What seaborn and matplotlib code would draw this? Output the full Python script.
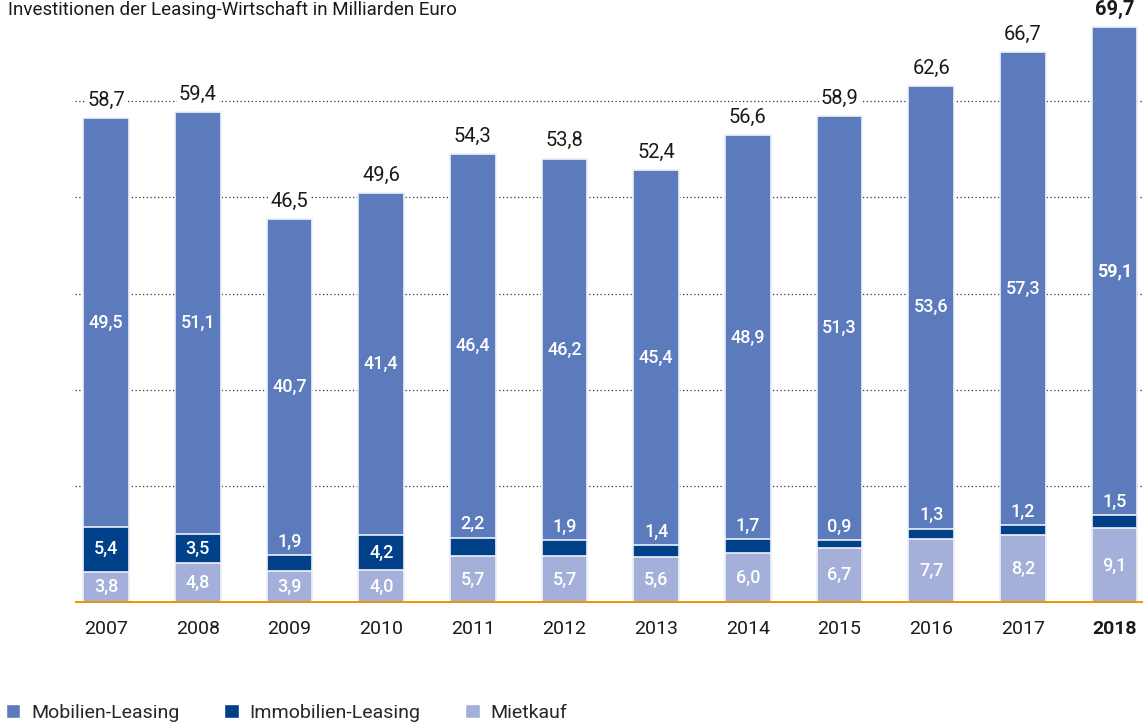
import numpy as np
import pandas as pd
import seaborn as sns
import matplotlib.pyplot as plt
from matplotlib.patches import Patch

# Investitionen der Leasing-Wirtschaft (Mrd. Euro)
years = ["2007", "2008", "2009", "2010", "2011", "2012",
         "2013", "2014", "2015", "2016", "2017", "2018"]
mobilien = [49.5, 51.1, 40.7, 41.4, 46.4, 46.2, 45.4, 48.9, 51.3, 53.6, 57.3, 59.1]
immobilien = [5.4, 3.5, 1.9, 4.2, 2.2, 1.9, 1.4, 1.7, 0.9, 1.3, 1.2, 1.5]
mietkauf = [3.8, 4.8, 3.9, 4.0, 5.7, 5.7, 5.6, 6.0, 6.7, 7.7, 8.2, 9.1]
totals = [58.7, 59.4, 46.5, 49.6, 54.3, 53.8, 52.4, 56.6, 58.9, 62.6, 66.7, 69.7]

col_mob = "#5b7bbd"
col_immo = "#00418a"
col_miet = "#a4b0da"
col_base = "#f39200"

df = pd.DataFrame({"year": years, "mob": mobilien, "immo": immobilien,
                   "miet": mietkauf, "total": totals})
df["low2"] = df["miet"] + df["immo"]
df["top"] = df["low2"] + df["mob"]

sns.set_style("white")
plt.rcParams["font.family"] = ["Roboto", "DejaVu Sans"]

fig = plt.figure(figsize=(11.43, 7.25), dpi=100)
ax = fig.add_axes([75 / 1143, 122 / 725, 1 - 75 / 1143, 603 / 725])

bar_kw = dict(width=0.5, edgecolor="#eef1f9", linewidth=1.2, ax=ax,
              errorbar=None, saturation=1)
sns.barplot(data=df, x="year", y="top", color=col_mob, **bar_kw)
sns.barplot(data=df, x="year", y="low2", color=col_immo, **bar_kw)
sns.barplot(data=df, x="year", y="miet", color=col_miet, **bar_kw)

ax.set_xlim(-0.34, 11.31)
ax.set_ylim(0, 73.0)

# dotted guide lines
ax.set_yticks([14.2, 25.8, 37.4, 49.2, 60.8])
ax.yaxis.grid(True, color="#333333", linestyle=(0, (1, 2)), linewidth=0.9)
ax.set_axisbelow(True)
ax.tick_params(axis="y", left=False, labelleft=False)
ax.tick_params(axis="x", bottom=False, pad=9, labelsize=14)
for s in ax.spines.values():
    s.set_visible(False)
ax.set_xlabel("")
ax.set_ylabel("")
ax.axhline(0, color=col_base, linewidth=2.8, zorder=5)

for lab in ax.get_xticklabels():
    lab.set_color("#1a1a1a")
    if lab.get_text() == "2018":
        lab.set_fontweight("bold")

def fmt(v):
    return f"{v:.1f}".replace(".", ",")

for i, row in df.iterrows():
    last = row["year"] == "2018"
    ax.text(i, row["top"] + 1.0, fmt(row["total"]), ha="center", va="bottom",
            fontsize=14.5, color="#1a1a1a", fontweight="bold" if last else "normal",
            bbox=dict(facecolor="white", edgecolor="none", pad=1.5), zorder=6)
    ax.text(i, row["low2"] + row["mob"] / 2, fmt(row["mob"]), ha="center", va="center",
            fontsize=13, color="white", fontweight="bold" if last else "medium")
    if row["immo"] >= 3.5:
        y_immo = row["miet"] + row["immo"] / 2
    else:
        y_immo = row["low2"] + 1.65
    ax.text(i, y_immo, fmt(row["immo"]), ha="center", va="center",
            fontsize=13, color="white", fontweight="medium")
    ax.text(i, row["miet"] / 2, fmt(row["miet"]), ha="center", va="center",
            fontsize=13, color="white", fontweight="medium")

fig.text(8 / 1143, 1 - 1 / 725, "Investitionen der Leasing-Wirtschaft in Milliarden Euro",
         ha="left", va="top", fontsize=13.5, color="#1a1a1a")

handles = [Patch(facecolor=col_mob, label="Mobilien-Leasing"),
           Patch(facecolor=col_immo, label="Immobilien-Leasing"),
           Patch(facecolor=col_miet, label="Mietkauf")]
fig.legend(handles=handles, loc="center left", bbox_to_anchor=(0.0, 12 / 725),
           ncol=3, frameon=False, fontsize=14, handlelength=0.75, handleheight=0.75,
           handletextpad=0.55, columnspacing=2.3, borderaxespad=0, borderpad=0.3)

fig.savefig("out.png", dpi=100)
